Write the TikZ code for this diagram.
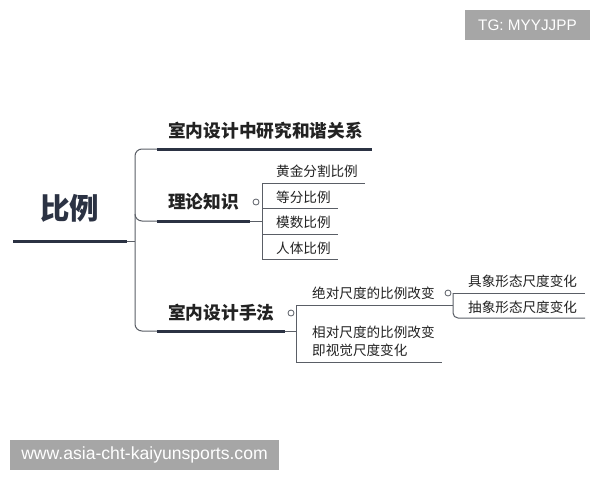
\documentclass[tikz,border=0pt]{standalone}
\usepackage{fontspec}
\newfontfamily\cjk{Noto Sans CJK SC}
\newfontfamily\wm{Liberation Sans}
\definecolor{navy}{HTML}{2B3243}
\definecolor{thin}{HTML}{5A5E66}
\definecolor{txt}{HTML}{222222}
\definecolor{wmgray}{HTML}{A6A6A6}
\begin{document}
\begin{tikzpicture}[x=1pt,y=-1pt,
  thickline/.style={draw=navy,line width=3pt},
  thinline/.style={draw=thin,line width=1pt},
  roottext/.style={font=\cjk\bfseries\fontsize{29.5}{32}\selectfont,text=navy,inner sep=0pt,anchor=west},
  l1text/.style={font=\cjk\bfseries\fontsize{17.7}{20}\selectfont,text=txt,inner sep=0pt,anchor=west},
  l2text/.style={font=\cjk\fontsize{13.6}{18}\selectfont,text=txt,inner sep=0pt,anchor=west,align=left},
  knob/.style={circle,draw=thin,fill=white,line width=0.8pt,minimum size=6pt,inner sep=0pt},
  wmbox/.style={fill=wmgray,text=white,inner sep=0pt,font=\wm}]
\useasboundingbox[fill=white] (0,0) rectangle (600,480);
% watermarks
\node[wmbox,minimum width=125pt,minimum height=30pt,font=\wm\fontsize{15.3}{18}\selectfont] (tg) at (527.5,25) {TG: MYYJJPP};
\node[wmbox,minimum width=269pt,minimum height=30pt,font=\wm\fontsize{17.6}{20}\selectfont] (url) at (144.5,455) {www.asia-cht-kaiyunsports.com};
% root
\node[roottext] (root) at (40,208) {比例};
\coordinate (r0) at (13,241);
\coordinate (r1) at (127,241);
\coordinate (sp) at (135,241);
\draw[thickline] (r0) -- (r1);
\draw[thinline] (r1) -- (sp);
% spine
\coordinate (a0) at (157,149);
\coordinate (b0) at (157,221);
\coordinate (c0) at (157,331);
\draw[thinline,rounded corners=7pt] (a0) -| (135,331) -- (c0);
\draw[thinline,rounded corners=7pt] (135,214) |- (b0);
% level 1
\node[l1text] (n1) at (168,131) {室内设计中研究和谐关系};
\coordinate (a1) at (372,149);
\draw[thickline] (a0) -- (a1);
\node[l1text] (n2) at (168,202) {理论知识};
\coordinate (b1) at (250,221);
\coordinate (b2) at (262,221);
\draw[thickline] (b0) -- (b1);
\draw[thinline] (b1) -- (b2);
\node[knob] (k2) at (256,202) {};
\node[l1text] (n3) at (168,313) {室内设计手法};
\coordinate (c1) at (285,331);
\coordinate (c2) at (296,331);
\draw[thickline] (c0) -- (c1);
\draw[thinline] (c1) -- (c2);
\node[knob] (k3) at (291,313) {};
% children of 理论知识
\coordinate (v0) at (262,183);
\coordinate (v3) at (262,259);
\draw[thinline] (v0) -- (v3);
\node[l2text] (t1) at (276,171) {黄金分割比例};
\node[l2text] (t2) at (276,197) {等分比例};
\node[l2text] (t3) at (276,222) {模数比例};
\node[l2text] (t4) at (276,248) {人体比例};
\coordinate (u1) at (365,183);
\coordinate (v1) at (262,208);
\coordinate (u2) at (338,208);
\coordinate (v2) at (262,234);
\coordinate (u3) at (338,234);
\coordinate (u4) at (338,259);
\draw[thinline] (v0) -- (u1);
\draw[thinline] (v1) -- (u2);
\draw[thinline] (v2) -- (u3);
\draw[thinline] (v3) -- (u4);
% children of 室内设计手法
\coordinate (w0) at (296,305);
\coordinate (w1) at (296,362);
\draw[thinline] (w0) -- (w1);
\node[l2text] (s1) at (312,293) {绝对尺度的比例改变};
\coordinate (x1) at (453,305);
\draw[thinline] (w0) -- (x1);
\node[knob] (k4) at (448,293) {};
\node[l2text] (s2) at (312,341) {相对尺度的比例改变\\即视觉尺度变化};
\coordinate (x2) at (442,362);
\draw[thinline] (w1) -- (x2);
% grandchildren
\coordinate (g0) at (453,293);
\coordinate (g1) at (585,293);
\coordinate (g2) at (585,318);
\draw[thinline] (g0) -- (g1);
\draw[thinline,rounded corners=5pt] (g0) |- (g2);
\node[l2text] (h1) at (468,281) {具象形态尺度变化};
\node[l2text] (h2) at (468,307) {抽象形态尺度变化};
\end{tikzpicture}
\end{document}
